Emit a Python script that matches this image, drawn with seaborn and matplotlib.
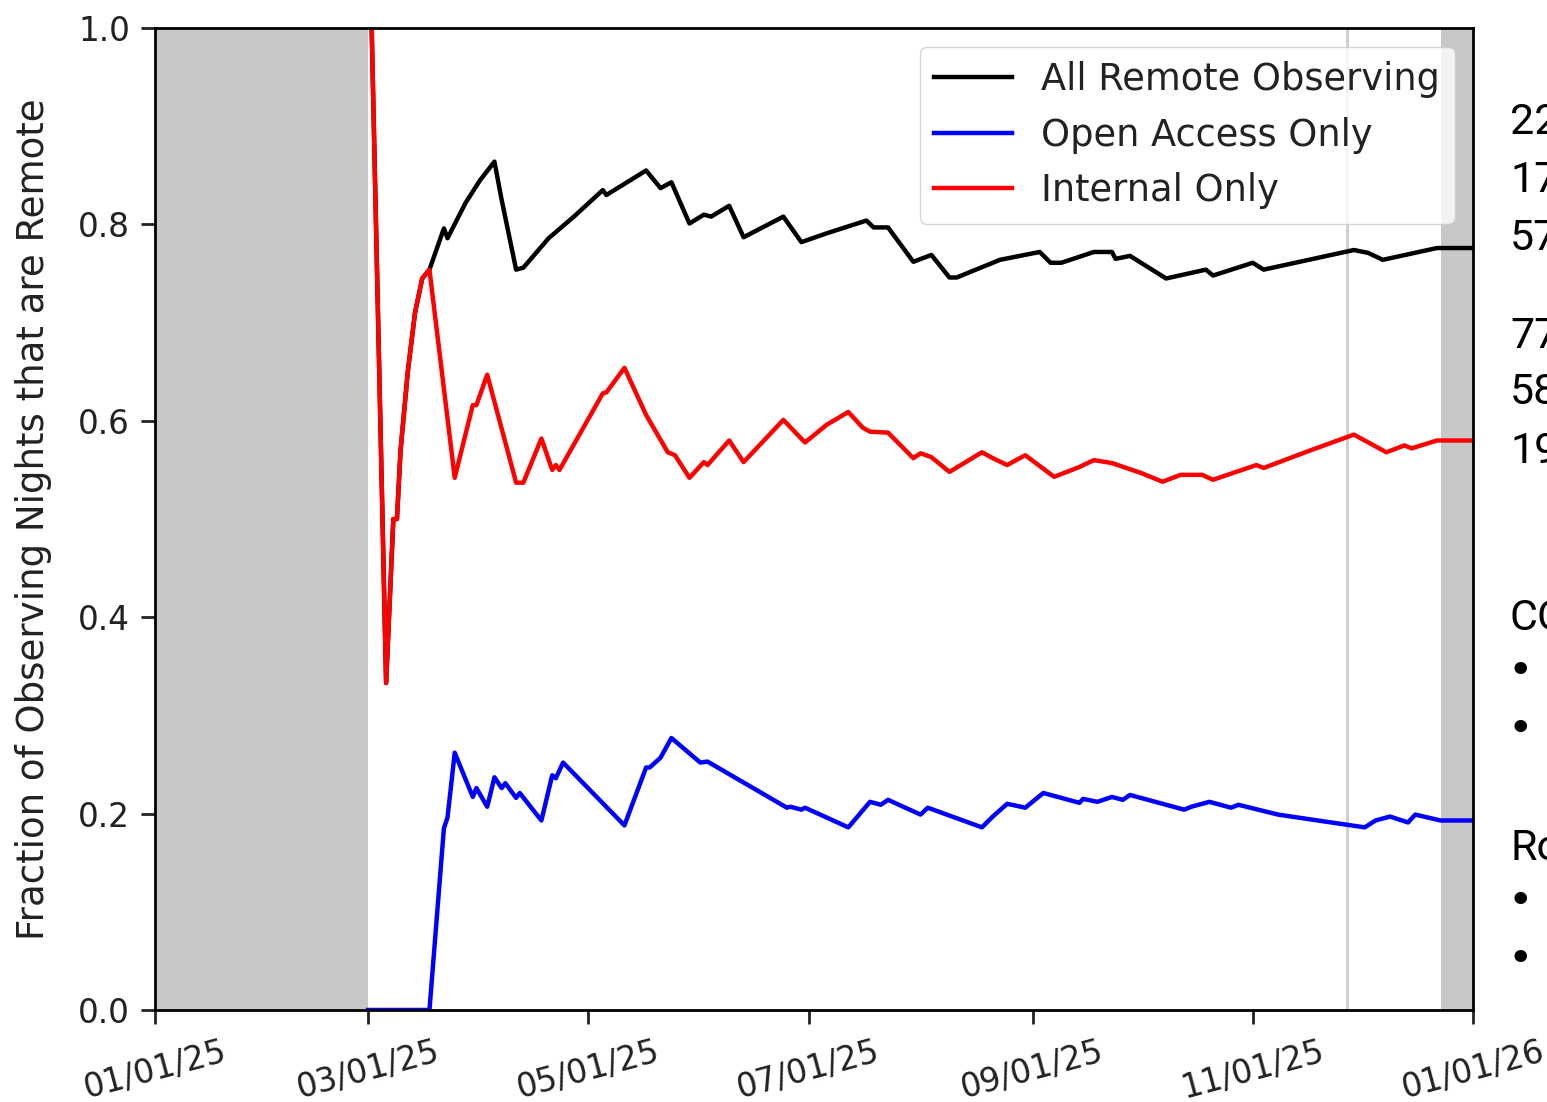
import numpy as np
import matplotlib
matplotlib.use("Agg")
import matplotlib.pyplot as plt
import matplotlib.dates as mdates
import pandas as pd
import seaborn as sns

# values
all_dates = ["2025-03-02", "2025-03-06", "2025-03-08", "2025-03-09", "2025-03-10", "2025-03-12",
             "2025-03-14", "2025-03-16", "2025-03-18", "2025-03-22", "2025-03-23", "2025-03-28",
             "2025-04-01", "2025-04-05", "2025-04-07", "2025-04-11", "2025-04-13", "2025-04-20",
             "2025-04-27", "2025-05-05", "2025-05-06", "2025-05-17",
             "2025-05-21", "2025-05-24", "2025-05-29", "2025-06-02", "2025-06-04", "2025-06-09",
             "2025-06-13", "2025-06-24", "2025-06-29", "2025-07-06", "2025-07-17", "2025-07-19",
             "2025-07-23", "2025-07-30", "2025-08-04", "2025-08-09", "2025-08-11", "2025-08-23",
             "2025-09-03", "2025-09-06", "2025-09-09", "2025-09-18", "2025-09-23", "2025-09-24",
             "2025-09-28", "2025-10-08", "2025-10-19", "2025-10-21", "2025-11-01", "2025-11-04",
             "2025-11-29", "2025-12-03", "2025-12-07", "2025-12-22", "2026-01-01"]
all_vals = [1.0, 0.333, 0.5, 0.5, 0.57, 0.65,
            0.71, 0.745, 0.754, 0.796, 0.786, 0.822,
            0.845, 0.864, 0.825, 0.754, 0.756, 0.786,
            0.808, 0.835, 0.83, 0.855,
            0.837, 0.843, 0.801, 0.81, 0.808, 0.819,
            0.787, 0.808, 0.782, 0.791, 0.804, 0.797,
            0.797, 0.762, 0.769, 0.746, 0.746, 0.764,
            0.772, 0.761, 0.761, 0.772, 0.772, 0.765,
            0.768, 0.745, 0.754, 0.748, 0.761, 0.754,
            0.774, 0.771, 0.764, 0.776, 0.776]

open_dates = ["2025-03-01", "2025-03-18", "2025-03-22", "2025-03-23", "2025-03-25", "2025-03-30",
              "2025-03-31", "2025-04-03", "2025-04-05", "2025-04-07", "2025-04-08", "2025-04-11",
              "2025-04-12", "2025-04-18", "2025-04-21", "2025-04-22", "2025-04-24", "2025-05-11",
              "2025-05-17", "2025-05-18", "2025-05-21", "2025-05-24", "2025-06-01", "2025-06-03",
              "2025-06-25", "2025-06-26", "2025-06-29", "2025-06-30", "2025-07-12", "2025-07-18",
              "2025-07-21", "2025-07-23", "2025-08-01", "2025-08-03", "2025-08-18", "2025-08-21",
              "2025-08-25", "2025-08-30", "2025-09-04", "2025-09-08", "2025-09-14", "2025-09-15",
              "2025-09-19", "2025-09-23", "2025-09-26", "2025-09-28", "2025-10-13", "2025-10-15",
              "2025-10-20", "2025-10-26", "2025-10-28", "2025-11-08", "2025-11-19", "2025-12-02",
              "2025-12-05", "2025-12-09", "2025-12-14", "2025-12-16", "2025-12-23", "2026-01-01"]
open_vals = [0.0, 0.0, 0.185, 0.196, 0.262, 0.217,
             0.226, 0.207, 0.237, 0.226, 0.231, 0.216,
             0.221, 0.193, 0.239, 0.236, 0.252, 0.188,
             0.247, 0.247, 0.257, 0.277, 0.252, 0.253,
             0.206, 0.207, 0.204, 0.206, 0.186, 0.212,
             0.209, 0.214, 0.199, 0.206, 0.186, 0.197,
             0.21, 0.206, 0.221, 0.217, 0.211, 0.215,
             0.212, 0.217, 0.214, 0.219, 0.204, 0.207,
             0.212, 0.206, 0.209, 0.199, 0.193, 0.186,
             0.193, 0.197, 0.191, 0.199, 0.193, 0.193]

int_dates = ["2025-03-02", "2025-03-06", "2025-03-08", "2025-03-09", "2025-03-10", "2025-03-12",
             "2025-03-14", "2025-03-16", "2025-03-18", "2025-03-25", "2025-03-30", "2025-03-31",
             "2025-04-03", "2025-04-11", "2025-04-13", "2025-04-18", "2025-04-21", "2025-04-22",
             "2025-04-23", "2025-05-05", "2025-05-06", "2025-05-11", "2025-05-17", "2025-05-23",
             "2025-05-25", "2025-05-29", "2025-06-02", "2025-06-03", "2025-06-09", "2025-06-13",
             "2025-06-24", "2025-06-30", "2025-07-06", "2025-07-12", "2025-07-16", "2025-07-18",
             "2025-07-23", "2025-07-30", "2025-08-01", "2025-08-04", "2025-08-09", "2025-08-18",
             "2025-08-21", "2025-08-25", "2025-08-30", "2025-09-07", "2025-09-14", "2025-09-18",
             "2025-09-23", "2025-09-27", "2025-10-01", "2025-10-07", "2025-10-12", "2025-10-18",
             "2025-10-21", "2025-11-02", "2025-11-04", "2025-11-17", "2025-11-29", "2025-12-08",
             "2025-12-13", "2025-12-15", "2025-12-22", "2026-01-01"]
int_vals = [1.0, 0.333, 0.5, 0.5, 0.57, 0.65,
            0.71, 0.745, 0.754, 0.542, 0.616, 0.616,
            0.647, 0.537, 0.537, 0.582, 0.55, 0.555,
            0.55, 0.628, 0.629, 0.654, 0.606, 0.568,
            0.565, 0.542, 0.558, 0.555, 0.58, 0.558,
            0.601, 0.578, 0.596, 0.609, 0.593, 0.589,
            0.588, 0.562, 0.567, 0.563, 0.548, 0.568,
            0.562, 0.555, 0.565, 0.543, 0.553, 0.56,
            0.557, 0.552, 0.547, 0.538, 0.545, 0.545,
            0.54, 0.555, 0.552, 0.57, 0.586, 0.568,
            0.575, 0.572, 0.58, 0.58]

side_numbers = ["22", "17", "57", "77", "58", "19"]

df_all = pd.DataFrame({"date": pd.to_datetime(all_dates), "frac": all_vals})
df_open = pd.DataFrame({"date": pd.to_datetime(open_dates), "frac": open_vals})
df_int = pd.DataFrame({"date": pd.to_datetime(int_dates), "frac": int_vals})

plt.rcParams["axes.linewidth"] = 2
fig = plt.figure(figsize=(15.47, 11.02), dpi=100)
ax = fig.add_axes([0.1002, 0.0835, 0.852, 0.891])

ax.axvspan(pd.Timestamp("2025-01-01"), pd.Timestamp("2025-03-01"), color="#c8c8c8", lw=0, zorder=0)
ax.axvspan(pd.Timestamp("2025-12-23"), pd.Timestamp("2026-01-01"), color="#c8c8c8", lw=0, zorder=0)
ax.axvline(pd.Timestamp("2025-11-27"), color="#cccccc", lw=2, zorder=0)

sns.lineplot(data=df_all, x="date", y="frac", color="black", lw=3.2, label="All Remote Observing", ax=ax)
sns.lineplot(data=df_open, x="date", y="frac", color="blue", lw=3.2, label="Open Access Only", ax=ax)
sns.lineplot(data=df_int, x="date", y="frac", color="red", lw=3.2, label="Internal Only", ax=ax)

ax.set_xlim(pd.Timestamp("2025-01-01"), pd.Timestamp("2026-01-01"))
ax.set_ylim(0, 1)
ax.set_yticks(np.arange(0, 1.01, 0.2))
ax.xaxis.set_major_locator(mdates.MonthLocator(bymonth=[1, 3, 5, 7, 9, 11]))
ax.xaxis.set_major_formatter(mdates.DateFormatter("%m/%d/%y"))
ax.tick_params(labelsize=23.5, length=10, width=2, pad=8, colors="#222222")
for lab in ax.get_xticklabels():
    lab.set_rotation(15)
ax.set_xlabel("")
ax.set_ylabel("Fraction of Observing Nights that are Remote", fontsize=26.7, color="#222222", labelpad=19)

leg = ax.legend(loc="upper right", fontsize=26.5, handlelength=2.1, borderaxespad=0.5)
for t in leg.get_texts():
    t.set_color("#222222")

ys = [122, 180, 238, 336, 393, 452]
for s, y in zip(side_numbers, ys):
    fig.text(1510 / 1547, 1 - y / 1102, s, fontsize=31, family="Roboto", va="center")
fig.text(1510 / 1547, 1 - 618 / 1102, "CO", fontsize=31, family="Roboto", va="center")
fig.text(1510 / 1547, 1 - 848 / 1102, "Ro", fontsize=31, family="Roboto", va="center")
for y in [672, 730, 902, 960]:
    fig.text(1508 / 1547, 1 - y / 1102, "\u2022", fontsize=31, family="DejaVu Sans", va="center")

plt.savefig("out.png", dpi=100)
